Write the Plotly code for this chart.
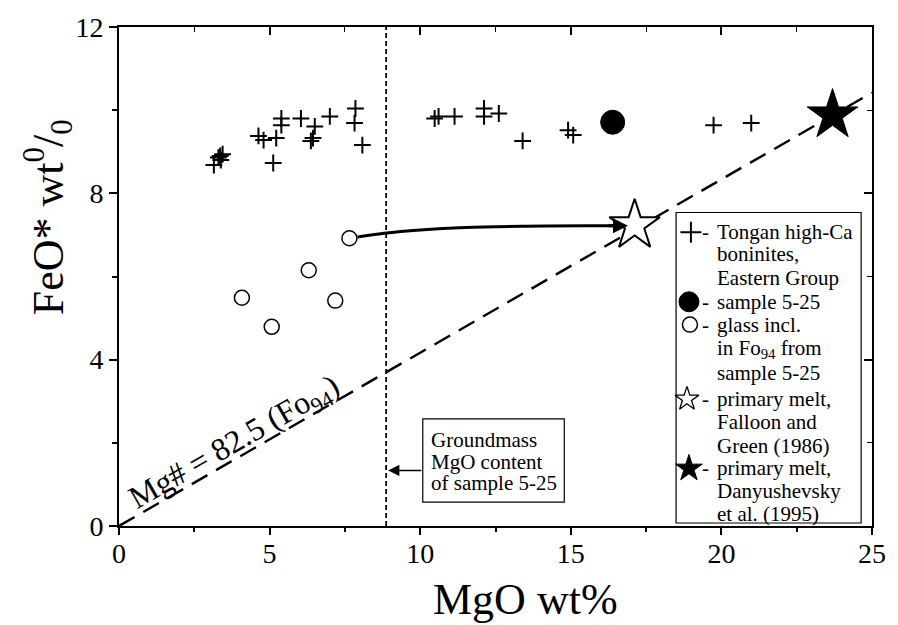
import plotly.graph_objects as go

# ---------------- data ----------------
tongan_mgo = [3.15, 3.30, 3.36, 3.44, 3.38, 4.63, 4.80, 5.22, 5.12, 5.39, 5.39, 6.04, 6.50, 6.37, 6.44,
              7.00, 7.85, 7.82, 8.08, 10.48, 10.61, 11.14, 12.12, 12.12, 12.61, 13.40, 14.91, 15.08,
              19.74, 20.99]
tongan_feo = [8.68, 8.86, 8.90, 8.94, 8.80, 9.38, 9.28, 9.33, 8.73, 9.80, 9.64, 9.80, 9.61, 9.26, 9.33,
              9.85, 10.04, 9.69, 9.16, 9.80, 9.85, 9.85, 10.04, 9.85, 9.92, 9.26, 9.52, 9.40,
              9.64, 9.69]
sample_mgo = [16.39]
sample_feo = [9.71]
glass_mgo = [4.08, 5.07, 6.30, 7.18, 7.65]
glass_feo = [5.49, 4.79, 6.15, 5.42, 6.92]
falloon_mgo = [17.12]
falloon_feo = [7.23]
danyu_mgo = [23.69]
danyu_feo = [9.88]
mgnum_mgo = [0, 25]
mgnum_feo = [0, 10.42]
groundmass_mgo = 8.87
path_mgo = [7.92, 8.8, 10.0, 11.5, 13.5, 15.5, 16.4]
path_feo = [6.95, 7.04, 7.12, 7.18, 7.21, 7.22, 7.22]

x_ticks = [0, 5, 10, 15, 20, 25]
y_ticks = [0, 4, 8, 12]

SERIF = "Liberation Serif, Times New Roman, serif"
BLK = "black"

fig = go.Figure()

# Mg# = 82.5 line
fig.add_trace(go.Scatter(x=mgnum_mgo, y=mgnum_feo, mode="lines",
                         line=dict(color=BLK, width=2.4, dash="18px,10px"), hoverinfo="skip"))
# evolution path (curved arrow)
fig.add_trace(go.Scatter(x=path_mgo, y=path_feo, mode="lines",
                         line=dict(color=BLK, width=3, shape="spline", smoothing=1.0), hoverinfo="skip"))
# Tongan boninites
fig.add_trace(go.Scatter(x=tongan_mgo, y=tongan_feo, mode="markers",
                         marker=dict(symbol="cross-thin", size=12, line=dict(color=BLK, width=2))))
# sample 5-25
fig.add_trace(go.Scatter(x=sample_mgo, y=sample_feo, mode="markers",
                         marker=dict(symbol="circle", size=24, color=BLK, opacity=1,
                                     line=dict(color=BLK, width=1))))
# glass inclusions
fig.add_trace(go.Scatter(x=glass_mgo, y=glass_feo, mode="markers",
                         marker=dict(symbol="circle-open", size=15, color=BLK, line=dict(width=1.5))))
# primary melt Falloon & Green
fig.add_trace(go.Scatter(x=falloon_mgo, y=falloon_feo, mode="markers",
                         marker=dict(symbol="star", size=38, color="white", line=dict(color=BLK, width=2))))
# primary melt Danyushevsky
fig.add_trace(go.Scatter(x=danyu_mgo, y=danyu_feo, mode="markers",
                         marker=dict(symbol="star", size=38, color=BLK, opacity=1,
                                     line=dict(color=BLK, width=1))))

# --------- legend keys on a pixel-coordinate overlay axis ---------
leg_x = [697, 695, 696, 693, 695]
leg_y = [230, 300, 323, 398, 468]
leg_sym = ["cross-thin", "circle", "circle-open", "star", "star"]
leg_size = [15, 20, 15, 18, 20]
leg_col = [BLK, BLK, BLK, "white", BLK]
fig.add_trace(go.Scatter(x=leg_x, y=leg_y, mode="markers", xaxis="x2", yaxis="y2",
                         marker=dict(symbol=leg_sym, size=leg_size, color=leg_col, opacity=1,
                                     line=dict(color=BLK, width=[2, 1, 1.5, 1.3, 1])),
                         hoverinfo="skip"))
# dummy trace for mirrored (inside) ticks on top/right
fig.add_trace(go.Scatter(x=[None], y=[None], xaxis="x3", yaxis="y3", mode="markers",
                         showlegend=False, hoverinfo="skip"))

shapes = []
# groundmass MgO vertical line
shapes.append(dict(type="line", xref="x", yref="y", x0=groundmass_mgo, x1=groundmass_mgo, y0=0, y1=12,
                   line=dict(color=BLK, width=1.8, dash="5px,3px")))
# groundmass label box
shapes.append(dict(type="rect", xref="x2", yref="y2", x0=426, x1=569, y0=418, y1=502,
                   line=dict(color=BLK, width=1.2), fillcolor="white"))
# legend box
shapes.append(dict(type="rect", xref="x2", yref="y2", x0=682, x1=869, y0=210, y1=523,
                   line=dict(color=BLK, width=1.2), fillcolor="rgba(255,255,255,0)"))

ann = []
def txt(x, y, s, size=21, anchor="left", angle=0):
    ann.append(dict(xref="x2", yref="y2", x=x, y=y, text=s, showarrow=False, xanchor=anchor,
                    yanchor="middle", textangle=angle, font=dict(family=SERIF, size=size, color=BLK)))

# legend text
PX, CX = 706, 721
for yy in (230, 300, 323, 398, 468):
    txt(PX, yy, "-")
txt(CX, 230, "Tongan high-Ca")
txt(CX, 252, "boninites,")
txt(CX, 276, "Eastern Group")
txt(CX, 300, "sample 5-25")
txt(CX, 323, "glass incl.")
txt(CX, 348, "in Fo<sub>94</sub> from")
txt(CX, 372, "sample 5-25")
txt(CX, 398, "primary melt,")
txt(CX, 421, "Falloon and")
txt(CX, 445, "Green (1986)")
txt(CX, 468, "primary melt,")
txt(CX, 491, "Danyushevsky")
txt(CX, 514, "et al. (1995)")

# groundmass text
txt(432, 439, "Groundmass")
txt(432, 461, "MgO content")
txt(432, 483, "of sample 5-25")

# Mg# label along the dashed line
txt(236, 443, "Mg# = 82.5 (Fo<sub>94</sub>)", size=32, anchor="center", angle=-29.9)

# axis titles (placed as in the reference)
def ptxt(px, py, s, size, angle=0):
    ann.append(dict(xref="paper", yref="paper", x=(px - 119) / 761, y=(526 - py) / 503, text=s,
                    showarrow=False, xanchor="center", yanchor="middle", textangle=angle,
                    font=dict(family=SERIF, size=size, color=BLK)))

ptxt(530, 600, "MgO wt%", 44)
ptxt(48, 215, "FeO* wt<sup>0</sup>/<sub>0</sub>", 44, angle=-90)

# arrow from groundmass box to the vertical line
ann.append(dict(xref="x2", yref="y2", axref="x2", ayref="y2", x=391, y=470, ax=426, ay=470,
                text="", showarrow=True, arrowhead=2, arrowsize=1.5, arrowwidth=1.5, arrowcolor=BLK))
# arrowhead at the end of the curved path
ann.append(dict(xref="x", yref="y", axref="x", ayref="y", x=16.9, y=7.22, ax=16.2, ay=7.22,
                text="", showarrow=True, arrowhead=2, arrowsize=1.0, arrowwidth=3, arrowcolor=BLK))

fig.update_layout(
    width=898, height=625,
    margin=dict(l=119, r=18, t=23, b=99),
    plot_bgcolor="white", paper_bgcolor="white",
    showlegend=False,
    font=dict(family=SERIF, color=BLK),
    shapes=shapes, annotations=ann,
    xaxis=dict(range=[0, 25], tickvals=x_ticks, ticks="outside", ticklen=7, tickwidth=2, tickcolor=BLK,
               minor=dict(dtick=2.5, ticks="outside", ticklen=4, tickwidth=1.5, tickcolor=BLK),
               showline=True, linewidth=2, linecolor=BLK, mirror=True, showgrid=False, zeroline=False,
               ticklabelstandoff=-6,
               tickfont=dict(size=28, family=SERIF), fixedrange=True),
    yaxis=dict(range=[0, 12], tickvals=y_ticks, ticks="outside", ticklen=8, tickwidth=2, tickcolor=BLK,
               minor=dict(dtick=2, ticks="outside", ticklen=5, tickwidth=1.5, tickcolor=BLK),
               showline=True, linewidth=2, linecolor=BLK, mirror=True, showgrid=False, zeroline=False,
               tickfont=dict(size=28, family=SERIF), fixedrange=True),
    xaxis2=dict(overlaying="x", anchor="y2", range=[119, 880], visible=False, fixedrange=True),
    yaxis2=dict(overlaying="y", anchor="x2", range=[526, 23], visible=False, fixedrange=True),
    xaxis3=dict(overlaying="x", anchor="y3", side="top", range=[0, 25], tickvals=x_ticks, ticks="inside",
                ticklen=8, tickwidth=1.5, tickcolor=BLK, showticklabels=False, showline=False,
                showgrid=False, zeroline=False,
                minor=dict(dtick=2.5, ticks="inside", ticklen=5, tickwidth=1.2, tickcolor=BLK)),
    yaxis3=dict(overlaying="y", anchor="x3", side="right", range=[0, 12], tickvals=y_ticks, ticks="inside",
                ticklen=8, tickwidth=1.5, tickcolor=BLK, showticklabels=False, showline=False,
                showgrid=False, zeroline=False,
                minor=dict(dtick=2, ticks="inside", ticklen=5, tickwidth=1.2, tickcolor=BLK)),
)

fig.write_html("out.html")
